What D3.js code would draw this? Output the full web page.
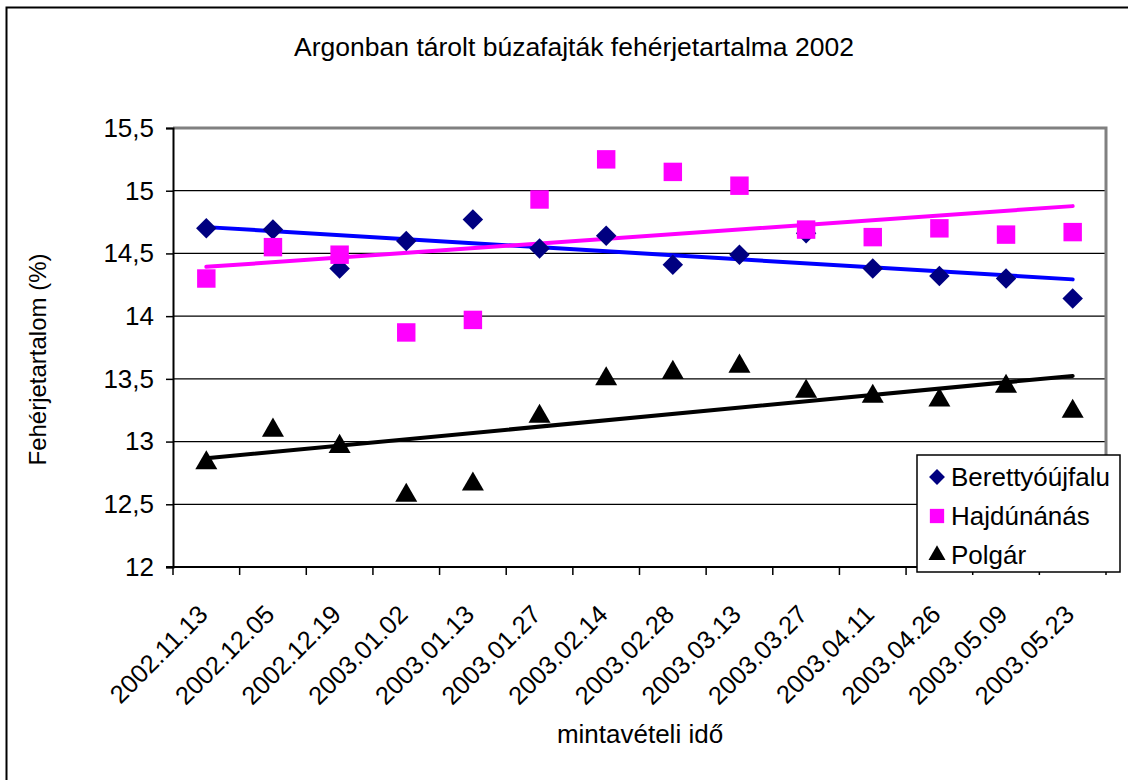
<!DOCTYPE html>
<html>
<head>
<meta charset="utf-8">
<script src="https://cdn.jsdelivr.net/npm/d3@7"></script>
<style>
  body { margin: 0; background: #fff; }
  svg { display: block; font-family: "Liberation Sans", Arial, sans-serif; }
</style>
</head>
<body>
<div id="chart"></div>
<script>
// sampling dates
const dates = ['2002.11.13', '2002.12.05', '2002.12.19', '2003.01.02', '2003.01.13', '2003.01.27', '2003.02.14',
  '2003.02.28', '2003.03.13', '2003.03.27', '2003.04.11', '2003.04.26', '2003.05.09', '2003.05.23'];

// protein content (%) per location
const berettyoujfalu = [14.70, 14.69, 14.38, 14.60, 14.77, 14.54, 14.64, 14.41, 14.49, 14.66, 14.38, 14.32, 14.30, 14.14];
const hajdunanas = [14.30, 14.55, 14.49, 13.87, 13.97, 14.93, 15.25, 15.15, 15.04, 14.69, 14.63, 14.70, 14.65, 14.67];
const polgar = [12.83, 13.09, 12.96, 12.57, 12.66, 13.20, 13.50, 13.55, 13.60, 13.40, 13.36, 13.33, 13.44, 13.24];

const yTicks = [12, 12.5, 13, 13.5, 14, 14.5, 15, 15.5];
const seriesNames = ['Berettyóújfalu', 'Hajdúnánás', 'Polgár'];

const width = 1128;
const height = 780;
const plot = { left: 173, right: 1106, top: 128, bottom: 567 };

const series = [
  { name: seriesNames[0], values: berettyoujfalu, color: '#000080', trend: '#0000ff', symbol: d3.symbolSquare, rot: 45, size: 210 },
  { name: seriesNames[1], values: hajdunanas, color: '#ff00ff', trend: '#ff00ff', symbol: d3.symbolSquare, rot: 0, size: 340 },
  { name: seriesNames[2], values: polgar, color: '#000000', trend: '#000000', symbol: d3.symbolTriangle, rot: 0, size: 210 },
];

const svg = d3.select('#chart').append('svg')
  .attr('width', width)
  .attr('height', height);

// outer chart border (only top/left visible in the picture)
svg.append('rect')
  .attr('x', 6.5).attr('y', 7.5)
  .attr('width', width + 20).attr('height', height + 20)
  .attr('fill', 'none')
  .attr('stroke', '#000')
  .attr('stroke-width', 2);

const x = d3.scaleBand()
  .domain(dates)
  .range([plot.left, plot.right])
  .padding(0);

const y = d3.scaleLinear()
  .domain([12, 15.5])
  .range([plot.bottom, plot.top]);

const cx = d => x(d) + x.bandwidth() / 2;

// gridlines
svg.append('g')
  .selectAll('line')
  .data(yTicks.slice(1, -1))
  .join('line')
  .attr('x1', plot.left).attr('x2', plot.right)
  .attr('y1', d => y(d)).attr('y2', d => y(d))
  .attr('stroke', '#000')
  .attr('stroke-width', 1.2);

// plot frame (gray top & right)
svg.append('path')
  .attr('d', `M${plot.left},${plot.top}H${plot.right}V${plot.bottom}`)
  .attr('fill', 'none')
  .attr('stroke', '#808080')
  .attr('stroke-width', 3);

// y axis
const yAxis = svg.append('g')
  .attr('transform', `translate(${plot.left},0)`)
  .call(d3.axisLeft(y)
    .tickValues(yTicks)
    .tickSize(7)
    .tickPadding(12)
    .tickFormat(d => String(d).replace('.', ',')));
yAxis.select('.domain').attr('stroke', '#000').attr('stroke-width', 2);
yAxis.selectAll('.tick line').attr('stroke', '#000').attr('stroke-width', 1.5);
yAxis.selectAll('.tick text')
  .attr('font-size', 26)
  .attr('font-family', '"Liberation Sans", Arial, sans-serif')
  .attr('fill', '#000');

// x axis: ticks at category boundaries
const bounds = dates.map(d => x(d)).concat([plot.right]);
svg.append('line')
  .attr('x1', plot.left - 7).attr('x2', plot.right)
  .attr('y1', plot.bottom).attr('y2', plot.bottom)
  .attr('stroke', '#000').attr('stroke-width', 2);
svg.append('g')
  .selectAll('line')
  .data(bounds)
  .join('line')
  .attr('x1', d => d).attr('x2', d => d)
  .attr('y1', plot.bottom).attr('y2', plot.bottom + 8)
  .attr('stroke', '#000').attr('stroke-width', 1.5);

svg.append('g')
  .selectAll('text')
  .data(dates)
  .join('text')
  .attr('transform', d => `translate(${cx(d) + 3},${plot.bottom + 49}) rotate(-45)`)
  .attr('text-anchor', 'end')
  .attr('font-size', 25.5)
  .attr('fill', '#000')
  .text(d => d);

// linear trend lines
series.forEach(s => {
  const n = s.values.length;
  const xs = d3.range(1, n + 1);
  const mx = d3.mean(xs);
  const my = d3.mean(s.values);
  const slope = d3.sum(xs, (v, i) => (v - mx) * (s.values[i] - my)) / d3.sum(xs, v => (v - mx) * (v - mx));
  const icpt = my - slope * mx;
  svg.append('line')
    .attr('x1', cx(dates[0])).attr('y1', y(icpt + slope * 1))
    .attr('x2', cx(dates[n - 1])).attr('y2', y(icpt + slope * n))
    .attr('stroke', s.trend)
    .attr('stroke-width', 4)
    .attr('stroke-linecap', 'round');
});

// markers
series.forEach(s => {
  svg.append('g')
    .selectAll('path')
    .data(s.values)
    .join('path')
    .attr('transform', (v, i) => `translate(${cx(dates[i])},${y(v)}) rotate(${s.rot})`)
    .attr('d', d3.symbol().type(s.symbol).size(s.size))
    .attr('fill', s.color);
});

// title and axis titles
svg.append('text')
  .attr('x', 574).attr('y', 56)
  .attr('text-anchor', 'middle')
  .attr('font-size', 26.5)
  .text('Argonban tárolt búzafajták fehérjetartalma 2002');

svg.append('text')
  .attr('transform', `translate(46,${(plot.top + plot.bottom) / 2 + 12}) rotate(-90)`)
  .attr('text-anchor', 'middle')
  .attr('font-size', 24)
  .text('Fehérjetartalom (%)');

svg.append('text')
  .attr('x', 640).attr('y', 743)
  .attr('text-anchor', 'middle')
  .attr('font-size', 26)
  .text('mintavételi idő');

// legend
const legend = svg.append('g').attr('transform', 'translate(917,455)');
legend.append('rect')
  .attr('width', 203).attr('height', 117)
  .attr('fill', '#fff')
  .attr('stroke', '#000')
  .attr('stroke-width', 1.5);
series.forEach((s, i) => {
  const row = legend.append('g').attr('transform', `translate(0,${22 + i * 39})`);
  row.append('path')
    .attr('transform', `translate(20,0) rotate(${s.rot})`)
    .attr('d', d3.symbol().type(s.symbol).size(s.size * 0.6))
    .attr('fill', s.color);
  row.append('text')
    .attr('x', 34).attr('y', 0).attr('dy', '0.36em')
    .attr('font-size', 26)
    .text(s.name);
});
</script>
</body>
</html>
